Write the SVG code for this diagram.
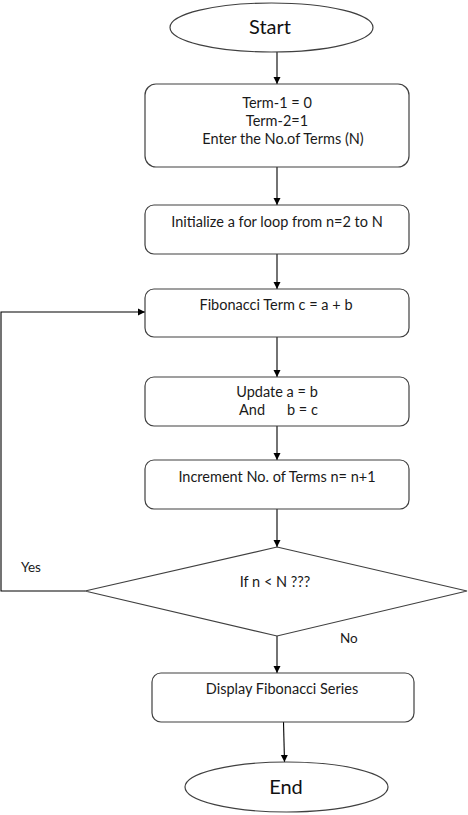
<svg xmlns="http://www.w3.org/2000/svg" width="468" height="815" viewBox="0 0 468 815">
<style>
.shape{fill:#fff;stroke:#404040;stroke-width:1.2}
.t{font-family:Lato,"Liberation Sans",sans-serif;font-size:14.5px;fill:#1a1a1a;text-anchor:middle}
.big{font-family:Lato,"Liberation Sans",sans-serif;font-size:20px;fill:#111;text-anchor:middle}
.lbl{font-family:Lato,"Liberation Sans",sans-serif;font-size:13.5px;fill:#1a1a1a}
.c{fill:none;stroke:#000;stroke-width:1.1}
</style>
<defs>
<marker id="ah" markerWidth="8" markerHeight="8" refX="7" refY="4" orient="auto" markerUnits="userSpaceOnUse">
<path d="M0,0.5 L7,4 L0,7.5 Z" fill="#000"/>
</marker>
</defs>
<rect width="468" height="815" fill="#fff"/>
<g id="connectors">
<line class="c" x1="277" y1="52" x2="277" y2="84" marker-end="url(#ah)"/>
<line class="c" x1="277" y1="167" x2="277" y2="205" marker-end="url(#ah)"/>
<line class="c" x1="277" y1="254" x2="277" y2="289" marker-end="url(#ah)"/>
<line class="c" x1="277" y1="337" x2="277" y2="377" marker-end="url(#ah)"/>
<line class="c" x1="277" y1="426" x2="277" y2="460" marker-end="url(#ah)"/>
<line class="c" x1="277" y1="509" x2="277" y2="547" marker-end="url(#ah)"/>
<line class="c" x1="277" y1="636" x2="277" y2="673" marker-end="url(#ah)"/>
<line class="c" x1="283.5" y1="722" x2="284.5" y2="762" marker-end="url(#ah)"/>
<polyline class="c" points="85,591 1,591 1,312 145,312" marker-end="url(#ah)"/>
<text class="lbl" x="21" y="572">Yes</text>
<text class="lbl" x="340" y="643">No</text>
</g>
<g id="start">
<ellipse class="shape" cx="271.5" cy="27.5" rx="101.5" ry="24.5"/>
<text class="big" x="270" y="34">Start</text>
</g>
<g id="init">
<rect class="shape" x="145" y="84" width="264" height="83" rx="11"/>
<text class="t" x="277" y="108">Term-1 = 0</text>
<text class="t" x="277" y="126">Term-2=1</text>
<text class="t" x="283" y="144">Enter the No.of Terms (N)</text>
</g>
<g id="loop">
<rect class="shape" x="145" y="205" width="264" height="49" rx="9"/>
<text class="t" x="277" y="227">Initialize a for loop from n=2 to N</text>
</g>
<g id="fib">
<rect class="shape" x="145" y="289" width="264" height="48" rx="9"/>
<text class="t" x="276" y="310">Fibonacci Term c = a + b</text>
</g>
<g id="update">
<rect class="shape" x="145" y="377" width="264" height="49" rx="9"/>
<text class="t" x="277" y="397">Update a = b</text>
<text class="t" style="text-anchor:start" x="239" y="415">And</text>
<text class="t" style="text-anchor:start" x="287" y="415">b = c</text>
</g>
<g id="increment">
<rect class="shape" x="145" y="460" width="264" height="49" rx="9"/>
<text class="t" x="277" y="482">Increment No. of Terms n= n+1</text>
</g>
<g id="decision">
<polygon class="shape" points="277,547 467,591 277,636 85,591"/>
<text class="t" x="275" y="587">If n &lt; N ???</text>
</g>
<g id="display">
<rect class="shape" x="152" y="673" width="262" height="49" rx="9"/>
<text class="t" x="282" y="694">Display Fibonacci Series</text>
</g>
<g id="end">
<ellipse class="shape" cx="286.5" cy="787" rx="101.5" ry="25"/>
<text class="big" x="286" y="794">End</text>
</g>
</svg>
